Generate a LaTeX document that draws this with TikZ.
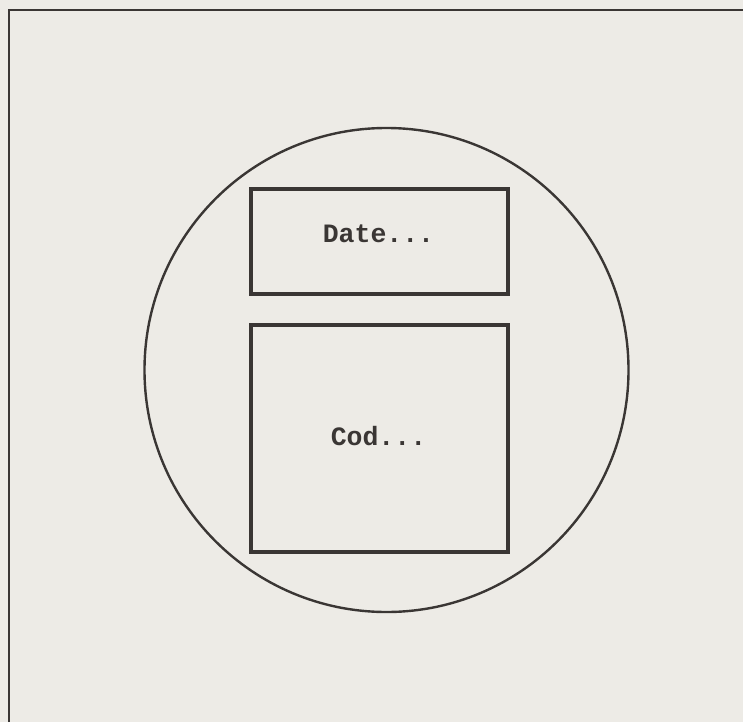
\documentclass[tikz,border=0pt]{standalone}
\usepackage{fontspec}
\setmonofont{Liberation Mono}
\definecolor{paper}{HTML}{EDEBE6}
\definecolor{ink}{HTML}{3A3634}
\begin{document}
\begin{tikzpicture}[x=1pt,y=-1pt,
  box/.style={draw=ink,line width=3.5pt,inner sep=0pt},
  lbl/.style={font=\ttfamily\bfseries\fontsize{26.5}{30}\selectfont,text=ink}]
\fill[paper] (0,0) rectangle (743,722);
\useasboundingbox (0,0) rectangle (743,722);
\draw[ink,line width=1.6pt] (9,722) -- (9,10) -- (743,10);
\node[draw=ink,line width=2.4pt,circle,minimum size=484pt,inner sep=0pt] (c) at (386.5,370) {};
\node[box,minimum width=257pt,minimum height=105pt] (d) at (379.5,241.5) {};
\node[box,minimum width=257pt,minimum height=227pt] (k) at (379.5,438.5) {};
\node[lbl] (dt) at (378.5,234) {Date...};
\node[lbl] (ct) at (378.5,436) {Cod...};
\end{tikzpicture}
\end{document}
